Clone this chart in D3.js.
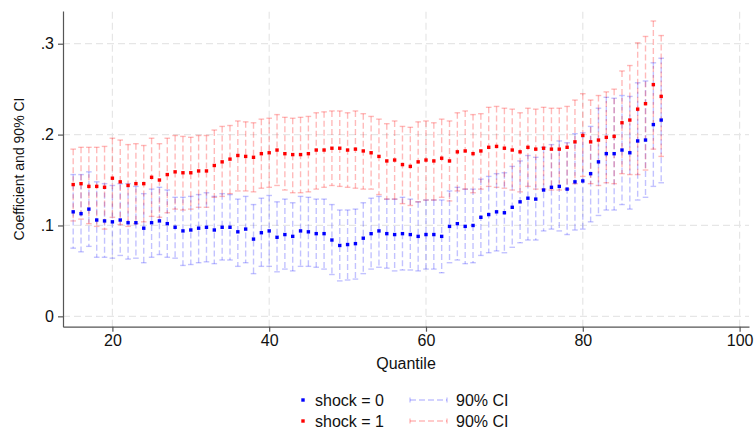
<!DOCTYPE html>
<html>
<head>
<meta charset="utf-8">
<script src="https://cdn.jsdelivr.net/npm/d3@7"></script>
<style>
  html, body { margin: 0; padding: 0; background: #fff; }
  svg { display: block; font-family: "Liberation Sans", Arial, sans-serif; }
</style>
</head>
<body>
<svg id="chart" width="755" height="428"></svg>
<script>
// Quantiles estimated
const quantiles = [15,16,17,18,19,20,21,22,23,24,25,26,27,28,29,30,31,32,33,34,
  35,36,37,38,39,40,41,42,43,44,45,46,47,48,49,50,51,52,53,54,
  55,56,57,58,59,60,61,62,63,64,65,66,67,68,69,70,71,72,73,74,
  75,76,77,78,79,80,81,82,83,84,85,86,87,88,89,90];

// shock = 0: coefficient and 90% confidence bounds
const coef0 = [.115,.113,.118,.106,.105,.104,.106,.103,.103,.097,
  .103,.105,.102,.098,.094,.095,.097,.098,.095,.098,
  .098,.093,.096,.085,.092,.094,.087,.090,.088,.094,
  .093,.091,.091,.084,.078,.079,.080,.086,.091,.094,
  .091,.090,.091,.090,.088,.090,.090,.088,.099,.102,
  .099,.100,.109,.112,.115,.114,.120,.126,.130,.129,
  .139,.142,.143,.140,.148,.149,.157,.170,.179,.179,
  .183,.180,.193,.194,.211,.216];
const hi0 = [.156,.156,.159,.148,.146,.144,.146,.146,.143,.135,
  .140,.142,.139,.131,.131,.132,.134,.136,.132,.135,
  .134,.129,.132,.123,.130,.133,.126,.129,.125,.132,
  .131,.129,.129,.123,.117,.117,.118,.125,.130,.132,
  .129,.129,.131,.129,.126,.128,.128,.128,.138,.142,
  .140,.140,.151,.154,.157,.158,.165,.171,.177,.175,
  .186,.189,.193,.191,.201,.202,.209,.229,.241,.240,
  .243,.242,.257,.259,.279,.284];
const lo0 = [.075,.071,.077,.065,.065,.064,.067,.063,.064,.059,
  .065,.068,.065,.064,.056,.057,.059,.060,.058,.062,
  .062,.055,.059,.047,.055,.055,.049,.052,.050,.055,
  .055,.054,.052,.046,.039,.040,.041,.047,.052,.054,
  .053,.050,.051,.051,.050,.052,.052,.048,.059,.062,
  .058,.059,.067,.070,.072,.070,.076,.081,.084,.084,
  .094,.096,.094,.090,.095,.096,.104,.111,.117,.117,
  .123,.118,.128,.131,.143,.147];

// shock = 1: coefficient and 90% confidence bounds
const coef1 = [.145,.146,.143,.143,.142,.152,.148,.144,.146,.146,
  .153,.150,.156,.159,.158,.158,.160,.160,.166,.170,
  .173,.177,.176,.175,.179,.180,.183,.179,.178,.178,
  .179,.183,.183,.185,.185,.183,.184,.182,.180,.176,
  .171,.172,.167,.165,.170,.172,.171,.174,.171,.181,
  .182,.179,.182,.186,.187,.185,.183,.181,.186,.184,
  .185,.184,.184,.186,.192,.199,.192,.194,.197,.198,
  .213,.216,.228,.234,.255,.242];
const hi1 = [.184,.186,.186,.186,.187,.196,.194,.189,.190,.188,
  .196,.190,.196,.199,.198,.197,.199,.199,.205,.209,
  .210,.215,.214,.213,.217,.218,.222,.219,.218,.219,
  .220,.224,.225,.226,.226,.224,.226,.223,.220,.217,
  .212,.215,.209,.208,.214,.215,.213,.217,.215,.224,
  .226,.222,.223,.230,.231,.229,.228,.224,.229,.228,
  .230,.229,.229,.231,.238,.245,.238,.243,.247,.250,
  .270,.276,.301,.308,.325,.309];
const lo1 = [.105,.107,.102,.099,.096,.109,.101,.099,.102,.104,
  .110,.109,.114,.118,.117,.118,.120,.120,.131,.132,
  .135,.138,.138,.137,.141,.142,.144,.139,.136,.136,
  .137,.140,.142,.144,.143,.142,.141,.140,.140,.134,
  .129,.129,.124,.122,.126,.128,.128,.131,.127,.138,
  .140,.136,.140,.143,.142,.141,.139,.137,.143,.140,
  .140,.139,.139,.140,.146,.154,.146,.144,.147,.146,
  .157,.156,.156,.161,.184,.176];

const xTicks = [20, 40, 60, 80, 100];
const yTicks = [0, 0.1, 0.2, 0.3];
const yTickLabels = ["0", ".1", ".2", ".3"];

const series = [
  { label: "shock = 0", coef: coef0, lo: lo0, hi: hi0, color: "#0000ff", ci: "rgba(0,0,255,0.24)", ciSolid: "#b8b8ff" },
  { label: "shock = 1", coef: coef1, lo: lo1, hi: hi1, color: "#ff0000", ci: "rgba(255,0,0,0.27)", ciSolid: "#ffb0b0" }
];

const svg = d3.select("#chart");

const x = d3.scaleLinear().domain([13.7, 101.2]).range([63, 749]);
const y = d3.scaleLinear().domain([-0.0114, 0.336]).range([326.7, 11]);

const gridColor = "#e6e6e6";

// grid
svg.append("g").selectAll("line").data(yTicks).join("line")
  .attr("x1", x.range()[0]).attr("x2", x.range()[1])
  .attr("y1", d => y(d)).attr("y2", d => y(d))
  .attr("stroke", gridColor).attr("stroke-width", 1.2)
  .attr("stroke-dasharray", "7,4");
svg.append("g").selectAll("line").data(xTicks).join("line")
  .attr("y1", y.range()[0]).attr("y2", y.range()[1])
  .attr("x1", d => x(d)).attr("x2", d => x(d))
  .attr("stroke", gridColor).attr("stroke-width", 1.2)
  .attr("stroke-dasharray", "7,4");

// axes
const xAxis = d3.axisBottom(x).tickValues(xTicks).tickSize(5).tickPadding(3).tickSizeOuter(0);
const gx = svg.append("g").attr("transform", `translate(0,${y.range()[0]})`).call(xAxis);
const yAxis = d3.axisLeft(y).tickValues(yTicks).tickSize(5).tickPadding(4).tickSizeOuter(0)
  .tickFormat((d, i) => yTickLabels[i]);
const gy = svg.append("g").attr("transform", `translate(${x.range()[0]},0)`).call(yAxis);
[gx, gy].forEach(g => {
  g.select(".domain").attr("stroke", "#555").attr("stroke-width", 1.2);
  g.selectAll(".tick line").attr("stroke", "#555").attr("stroke-width", 1.2);
  g.selectAll(".tick text").attr("font-size", 16).attr("fill", "#111")
    .attr("font-family", "Liberation Sans, Arial, sans-serif");
});

// axis titles
svg.append("text").attr("x", (x.range()[0] + x.range()[1]) / 2).attr("y", 369)
  .attr("text-anchor", "middle").attr("font-size", 16).attr("fill", "#111").text("Quantile");
svg.append("text").attr("transform", `translate(24,169) rotate(-90)`)
  .attr("text-anchor", "middle").attr("font-size", 14).attr("fill", "#111")
  .text("Coefficient and 90% CI");

// confidence intervals (capped, dashed)
const capHalf = 2.8;
series.forEach(s => {
  const g = svg.append("g");
  quantiles.forEach((q, i) => {
    const cx = x(q);
    g.append("line").attr("x1", cx).attr("x2", cx)
      .attr("y1", y(s.hi[i])).attr("y2", y(s.lo[i]))
      .attr("stroke", s.ci).attr("stroke-width", 1.4)
      .attr("stroke-dasharray", "6,3");
    [s.hi[i], s.lo[i]].forEach(v => {
      g.append("line").attr("x1", cx - capHalf).attr("x2", cx + capHalf)
        .attr("y1", y(v)).attr("y2", y(v))
        .attr("stroke", s.ci).attr("stroke-width", 1.4);
    });
  });
});

// coefficient markers
const m = 3.4;
series.forEach(s => {
  svg.append("g").selectAll("rect").data(quantiles).join("rect")
    .attr("x", d => x(d) - m / 2)
    .attr("y", (d, i) => y(s.coef[i]) - m / 2)
    .attr("width", m).attr("height", m)
    .attr("fill", s.color);
});

// legend
const legend = svg.append("g");
series.forEach((s, i) => {
  const ly = 400 + i * 21;
  legend.append("rect").attr("x", 303 - m / 2).attr("y", ly - m / 2)
    .attr("width", m).attr("height", m).attr("fill", s.color);
  legend.append("text").attr("x", 315).attr("y", ly + 5.5)
    .attr("font-size", 16).attr("fill", "#111").text(s.label);
  legend.append("line").attr("x1", 410).attr("x2", 447).attr("y1", ly).attr("y2", ly)
    .attr("stroke", s.ci).attr("stroke-width", 1.4).attr("stroke-dasharray", "6,3");
  [410, 447].forEach(cx => {
    legend.append("line").attr("x1", cx).attr("x2", cx)
      .attr("y1", ly - 2.5).attr("y2", ly + 2.5)
      .attr("stroke", s.ci).attr("stroke-width", 1.4);
  });
  legend.append("text").attr("x", 456).attr("y", ly + 5.5)
    .attr("font-size", 16).attr("fill", "#111").text("90% CI");
});
</script>
</body>
</html>
